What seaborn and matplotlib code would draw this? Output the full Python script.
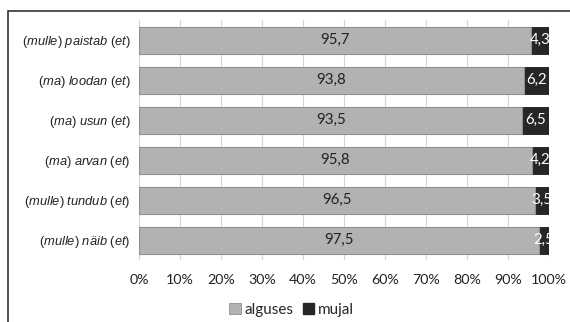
import matplotlib
matplotlib.use("Agg")
import matplotlib.pyplot as plt
from matplotlib.patches import Patch, Rectangle
import pandas as pd
import seaborn as sns

# Verb constructions (top to bottom) and shares in percent
verbs = [
    r"($\mathit{mulle}$) $\mathit{paistab}$ ($\mathit{et}$)",
    r"($\mathit{ma}$) $\mathit{loodan}$ ($\mathit{et}$)",
    r"($\mathit{ma}$) $\mathit{usun}$ ($\mathit{et}$)",
    r"($\mathit{ma}$) $\mathit{arvan}$ ($\mathit{et}$)",
    r"($\mathit{mulle}$) $\mathit{tundub}$ ($\mathit{et}$)",
    r"($\mathit{mulle}$) $\mathit{näib}$ ($\mathit{et}$)",
]
alguses = [95.7, 93.8, 93.5, 95.8, 96.5, 97.5]
mujal = [4.3, 6.2, 6.5, 4.2, 3.5, 2.5]
x_ticks = [0, 10, 20, 30, 40, 50, 60, 70, 80, 90, 100]
series_names = ["alguses", "mujal"]

light = "#b2b2b2"
dark = "#262626"

sns.set_theme(style="white")
plt.rcParams["mathtext.fontset"] = "custom"
plt.rcParams["mathtext.rm"] = "Liberation Sans"
plt.rcParams["mathtext.it"] = "Liberation Sans:italic"

df = pd.DataFrame({"verb": verbs, "alguses": alguses, "mujal": mujal})
df["total"] = df["alguses"] + df["mujal"]

fig = plt.figure(figsize=(5.7, 3.22), dpi=100)
ax = fig.add_axes([139 / 570, 1 - 260 / 322, 410 / 570, 240 / 322])

# stacked bars: full-length dark bar underneath, light share on top
sns.barplot(data=df, y="verb", x="total", color=dark, saturation=1,
            width=0.675, edgecolor="#1a1a1a", linewidth=0.6, ax=ax)
sns.barplot(data=df, y="verb", x="alguses", color=light, saturation=1,
            width=0.675, edgecolor="#8f8f8f", linewidth=0.8, ax=ax)

ax.set_xlim(0, 100)
ax.set_ylim(len(verbs) - 0.5, -0.5)
ax.set_xticks(x_ticks)
ax.set_xticklabels([f"{t}%" for t in x_ticks], fontfamily="Lato", fontsize=10.3, color="#222222")
ax.set_yticklabels(verbs, fontfamily="Liberation Sans", fontsize=9.3, color="#222222")
ax.tick_params(axis="x", length=0, pad=10)
ax.tick_params(axis="y", length=0, pad=6)
ax.set_xlabel("")
ax.set_ylabel("")
for s in ax.spines.values():
    s.set_visible(False)
ax.xaxis.grid(True, color="#d4d4d4", linewidth=0.8)
ax.set_axisbelow(True)

def fmt(v):
    return f"{v:.1f}".replace(".", ",")

for i, (a, m) in enumerate(zip(alguses, mujal)):
    t1 = ax.text(a / 2, i, fmt(a), ha="center", va="center",
                 fontfamily="Lato", fontsize=10.8, color="#222222")
    t2 = ax.text(a + m / 2, i, fmt(m), ha="center", va="center",
                 fontfamily="Lato", fontsize=10.8, color="white")
    for t in (t1, t2):
        t.set_clip_on(True)
        t.set_clip_box(ax.bbox)

handles = [Patch(facecolor=light, edgecolor="#8f8f8f", linewidth=0.6),
           Patch(facecolor=dark, edgecolor=dark)]
fig.legend(handles, series_names, loc="center", bbox_to_anchor=(0.512, 1 - 310 / 322),
           ncol=2, frameon=False, prop={"family": "Lato", "size": 11},
           handlelength=0.75, handleheight=0.75, handletextpad=0.25,
           columnspacing=0.6, borderpad=0)

# outer chart frame (left and top edges)
fig.patches.append(Rectangle((8 / 570, -0.2), 1.2, 1.2 - 11 / 322,
                             transform=fig.transFigure, fill=False,
                             edgecolor="#333333", linewidth=1.2))

fig.savefig("out.png", dpi=100)
